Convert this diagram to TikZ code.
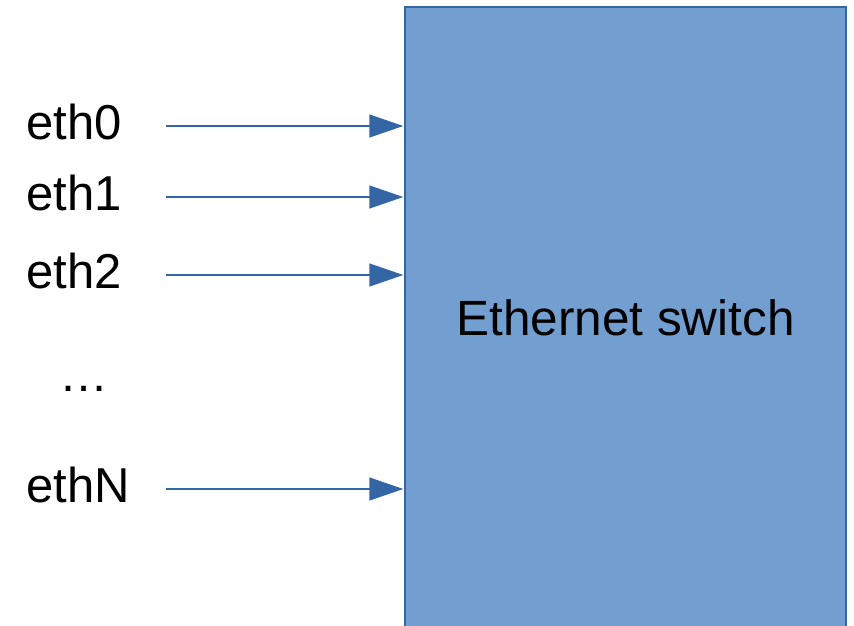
\documentclass[tikz,border=0pt]{standalone}
\usepackage{fontspec}
\setmainfont{Liberation Sans}
\usetikzlibrary{arrows.meta}
\definecolor{swfill}{HTML}{729FCF}
\definecolor{swline}{HTML}{3465A4}
\tikzset{
  switchbox/.style={draw=swline, line width=1.5pt, fill=swfill, rectangle,
    minimum width=441pt, minimum height=622pt, inner sep=0pt,
    font=\fontsize{49.5}{58}\selectfont},
  portlabel/.style={anchor=base west, inner sep=0pt, font=\fontsize{49}{58}\selectfont},
  portarrow/.style={draw=swline, line width=1.5pt,
    -{Triangle[length=34pt, width=23pt]}, shorten >=1pt}
}
\begin{document}
\begin{tikzpicture}[x=1pt, y=-1pt]
  \useasboundingbox (0,0) rectangle (854,626);
  \clip (0,0) rectangle (854,626);
  % the switch
  \node[switchbox] (sw) at (625.5,318) {Ethernet switch};
  % port labels
  \node[portlabel] (l0) at (26,139) {eth0};
  \node[portlabel] (l1) at (26,210) {eth1};
  \node[portlabel] (l2) at (26,288) {eth2};
  \node[portlabel] (ld) at (59,391) {…};
  \node[portlabel] (lN) at (26,502) {ethN};
  % arrow tails
  \coordinate (s0) at (166,126);
  \coordinate (s1) at (166,197);
  \coordinate (s2) at (166,275);
  \coordinate (sN) at (166,489);
  \draw[portarrow] (s0) -- (s0 -| sw.west);
  \draw[portarrow] (s1) -- (s1 -| sw.west);
  \draw[portarrow] (s2) -- (s2 -| sw.west);
  \draw[portarrow] (sN) -- (sN -| sw.west);
\end{tikzpicture}
\end{document}
